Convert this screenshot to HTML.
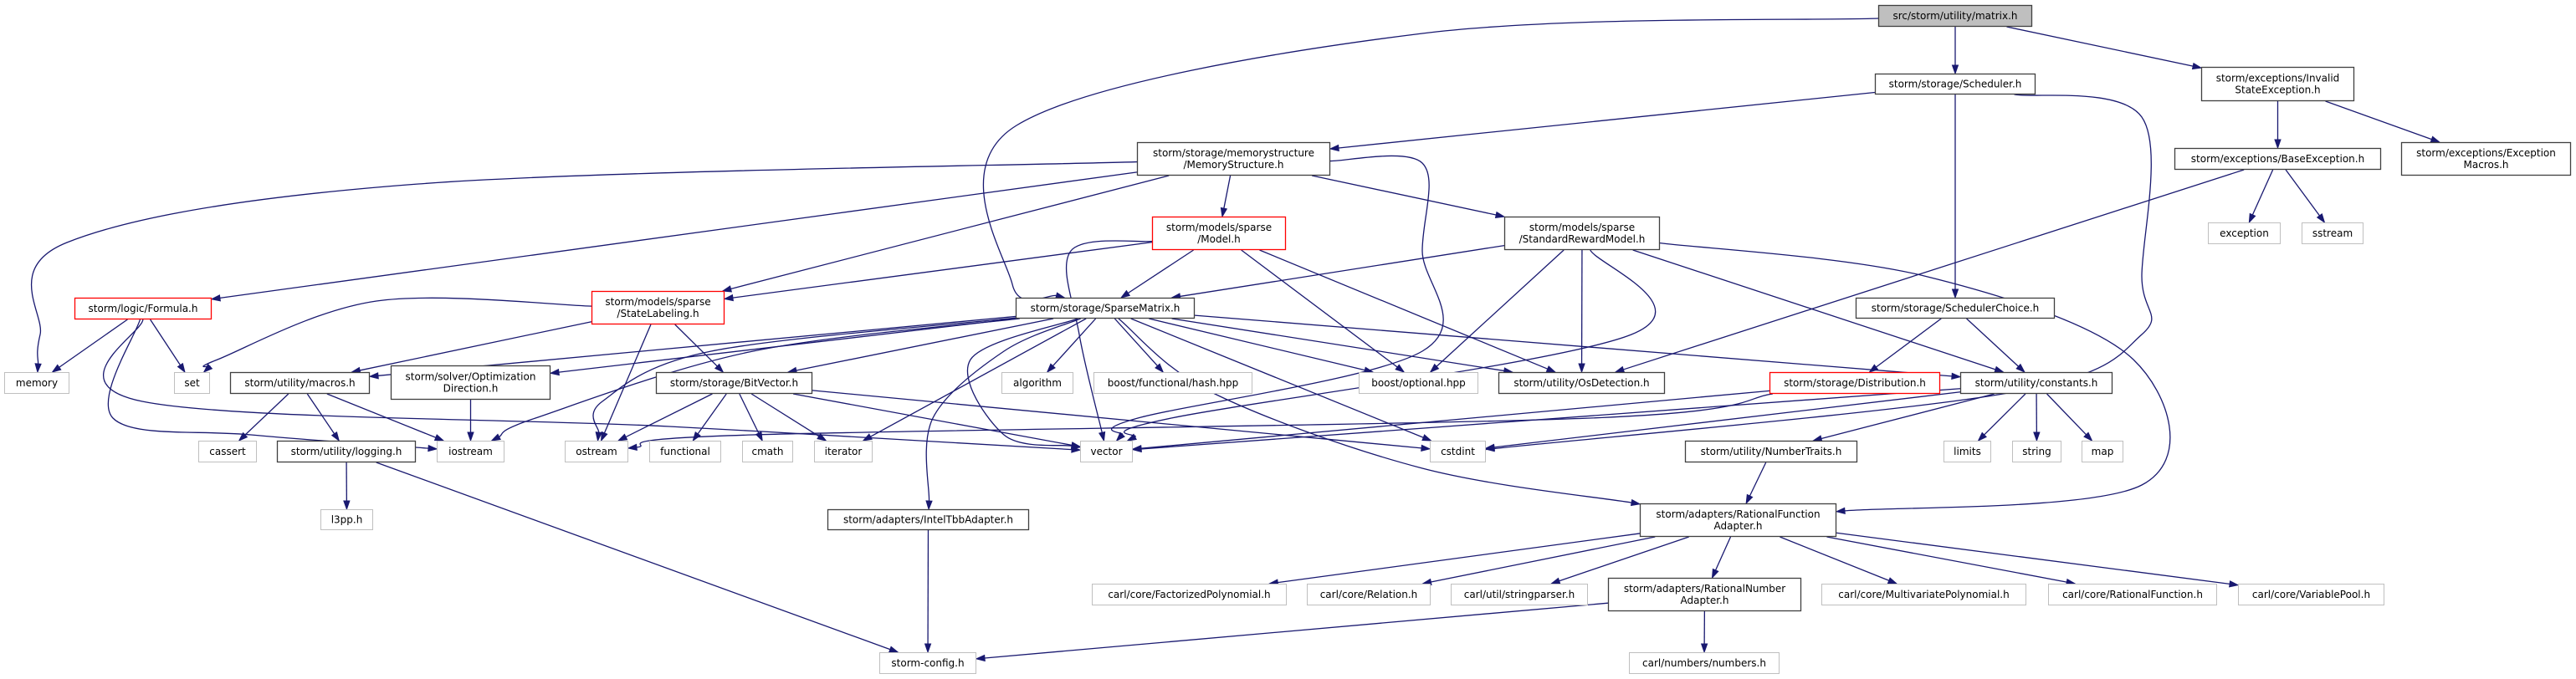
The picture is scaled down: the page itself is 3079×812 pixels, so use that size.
<!DOCTYPE html>
<html><head><meta charset="utf-8">
<style>
html,body{margin:0;padding:0;background:#fff;}
svg{display:block;}
text{font-family:"DejaVu Sans","Liberation Sans",sans-serif;font-size:12px;fill:#000;}
</style></head>
<body>
<svg id="g" xmlns="http://www.w3.org/2000/svg" width="3079" height="812" viewBox="0 0 3079 812">
<g id="edges" fill="none" stroke="#191970" stroke-width="1.3"></g>
<g id="arrows" fill="#191970" stroke="#191970"></g>
<g id="nodes"></g>
</svg>
<script>
var N={
matrix:[2245,2429,6,32,["src/storm/utility/matrix.h"],"f"],
sched:[2241,2433,88,113,["storm/storage/Scheduler.h"],"b"],
inval:[2631,2814,80,121,["storm/exceptions/Invalid","StateException.h"],"b"],
base:[2599,2846,177,203,["storm/exceptions/BaseException.h"],"b"],
emac:[2870,3073,170,210,["storm/exceptions/Exception","Macros.h"],"b"],
exc:[2639,2726,266,292,["exception"],"g"],
sstr:[2751,2825,266,292,["sstream"],"g"],
schch:[2218,2456,356,381,["storm/storage/SchedulerChoice.h"],"b"],
srm:[1798,1984,259,299,["storm/models/sparse","/StandardRewardModel.h"],"b"],
model:[1377,1537,259,299,["storm/models/sparse","/Model.h"],"r"],
mem:[1359,1590,170,210,["storm/storage/memorystructure","/MemoryStructure.h"],"b"],
sparse:[1214,1428,356,381,["storm/storage/SparseMatrix.h"],"b"],
label:[707,866,348,388,["storm/models/sparse","/StateLabeling.h"],"r"],
formula:[89,253,356,382,["storm/logic/Formula.h"],"r"],
memory:[5,83,445,471,["memory"],"g"],
set:[208,251,445,471,["set"],"g"],
macros:[275,442,445,471,["storm/utility/macros.h"],"b"],
optdir:[467,658,437,478,["storm/solver/Optimization","Direction.h"],"b"],
bitv:[784,971,445,471,["storm/storage/BitVector.h"],"b"],
cassert:[237,307,527,553,["cassert"],"g"],
logging:[331,497,527,553,["storm/utility/logging.h"],"b"],
iostream:[522,603,527,553,["iostream"],"g"],
ostream:[675,751,527,553,["ostream"],"g"],
functional:[776,862,527,553,["functional"],"g"],
cmath:[887,948,527,553,["cmath"],"g"],
iterator:[973,1043,527,553,["iterator"],"g"],
l3pp:[383,446,609,634,["l3pp.h"],"g"],
algorithm:[1197,1283,445,471,["algorithm"],"g"],
hash:[1307,1497,445,471,["boost/functional/hash.hpp"],"g"],
optional:[1624,1767,445,471,["boost/optional.hpp"],"g"],
osdet:[1791,1990,445,471,["storm/utility/OsDetection.h"],"b"],
vector:[1291,1354,527,553,["vector"],"g"],
cstdint:[1709,1776,527,553,["cstdint"],"g"],
tbb:[989,1230,609,634,["storm/adapters/IntelTbbAdapter.h"],"b"],
config:[1051,1167,780,806,["storm-config.h"],"g"],
rfa:[1960,2195,602,642,["storm/adapters/RationalFunction","Adapter.h"],"b"],
fact:[1305,1538,698,724,["carl/core/FactorizedPolynomial.h"],"g"],
rel:[1562,1710,698,724,["carl/core/Relation.h"],"g"],
strp:[1734,1898,698,724,["carl/util/stringparser.h"],"g"],
rna:[1922,2153,691,731,["storm/adapters/RationalNumber","Adapter.h"],"b"],
numbers:[1947,2127,780,806,["carl/numbers/numbers.h"],"g"],
distr:[2115,2319,445,471,["storm/storage/Distribution.h"],"r"],
consts:[2343,2525,445,471,["storm/utility/constants.h"],"b"],
ntraits:[2014,2220,527,553,["storm/utility/NumberTraits.h"],"b"],
limits:[2323,2380,527,553,["limits"],"g"],
string:[2405,2464,527,553,["string"],"g"],
map:[2488,2538,527,553,["map"],"g"],
multi:[2177,2422,698,724,["carl/core/MultivariatePolynomial.h"],"g"],
ratf:[2448,2650,698,724,["carl/core/RationalFunction.h"],"g"],
vpool:[2675,2850,698,724,["carl/core/VariablePool.h"],"g"]
};
// edges: [from,to, optional control points array]
var E=[
["matrix","sched"],["matrix","inval"],
["matrix","sparse",[[1700,40],[1215,150],[1210,340]]],
["sched","mem"],["sched","schch"],
["sched","cstdint",[[2560,140],[2560,330],[2560,400],[2400,470],[1800,535]]],
["inval","base"],["inval","emac"],
["base","exc"],["base","sstr"],["base","osdet"],
["mem","memory",[[500,220],[80,290],[48,400]]],
["mem","formula"],["mem","label"],["mem","model"],["mem","srm"],
["mem","vector",[[1700,195],[1700,300],[1700,420],[1360,500]]],
["model","label"],["model","sparse"],
["model","vector",[[1280,300],[1290,400]]],
["model","optional"],["model","osdet"],
["srm","sparse"],["srm","optional"],["srm","osdet"],
["srm","vector",[[1950,400],[1400,500]]],
["srm","consts"],
["srm","rfa",[[2300,330],[2550,430],[2560,580]]],
["formula","memory"],["formula","set"],
["formula","iostream",[[135,500],[300,520]]],
["formula","vector",[[170,480],[800,510]]],
["label","set",[[450,360],[260,430]]],
["label","macros"],["label","bitv"],["label","ostream"],
["sparse","macros"],["sparse","optdir"],["sparse","bitv"],
["sparse","iostream",[[900,420],[640,500]]],
["sparse","ostream",[[850,420],[720,480]]],
["sparse","vector",[[1160,430],[1200,520]]],
["sparse","iterator"],["sparse","algorithm"],["sparse","hash"],
["sparse","optional"],["sparse","osdet"],["sparse","cstdint"],
["sparse","consts"],
["sparse","tbb",[[1200,420],[1115,500]]],
["sparse","rfa",[[1450,470],[1700,560]]],
["macros","cassert"],["macros","logging"],["macros","iostream"],
["optdir","iostream"],
["bitv","ostream"],["bitv","functional"],["bitv","cmath"],["bitv","iterator"],
["bitv","vector"],["bitv","cstdint"],
["logging","l3pp"],["logging","config"],
["tbb","config"],
["schch","distr"],["schch","consts"],
["distr","vector"],["distr","ostream",[[1900,500],[900,520]]],
["consts","vector"],["consts","cstdint"],["consts","ntraits"],
["consts","limits"],["consts","string"],["consts","map"],
["ntraits","rfa"],
["rfa","fact"],["rfa","rel"],["rfa","strp"],["rfa","rna"],
["rfa","multi"],["rfa","ratf"],["rfa","vpool"],
["rna","config"],["rna","numbers"]
];
var ns="http://www.w3.org/2000/svg";
function el(t,a,p){var e=document.createElementNS(ns,t);for(var k in a)e.setAttribute(k,a[k]);p.appendChild(e);return e;}
var G=document.getElementById("nodes"),EG=document.getElementById("edges"),AG=document.getElementById("arrows");
function ctr(n){return [(n[0]+n[1])/2,(n[2]+n[3])/2];}
function clip(n,p,q){ // point on border of n on line from center p toward q
 var dx=q[0]-p[0],dy=q[1]-p[1];var hw=(n[1]-n[0])/2,hh=(n[3]-n[2])/2;
 var t=1e9; if(dx)t=Math.min(t,hw/Math.abs(dx)); if(dy)t=Math.min(t,hh/Math.abs(dy));
 return [p[0]+dx*t,p[1]+dy*t];}
E.forEach(function(e){
 var a=N[e[0]],b=N[e[1]],ca=ctr(a),cb=ctr(b),cp=e[2]||[];
 var first=cp.length?cp[0]:cb,last=cp.length?cp[cp.length-1]:ca;
 var s=clip(a,ca,first),t=clip(b,cb,last);
 // arrow: shorten end
 var dx=t[0]-last[0],dy=t[1]-last[1];if(!cp.length){dx=t[0]-s[0];dy=t[1]-s[1];}
 var L=Math.hypot(dx,dy)||1;dx/=L;dy/=L;
 var tip=t,base=[t[0]-dx*10,t[1]-dy*10];
 var d="M"+s[0]+","+s[1];
 if(cp.length){var pts=[s].concat(cp).concat([base]);
  // Catmull-Rom to bezier
  for(var i=0;i<pts.length-1;i++){var p0=pts[i-1]||pts[i],p1=pts[i],p2=pts[i+1],p3=pts[i+2]||p2;
   var c1=[p1[0]+(p2[0]-p0[0])/6,p1[1]+(p2[1]-p0[1])/6],c2=[p2[0]-(p3[0]-p1[0])/6,p2[1]-(p3[1]-p1[1])/6];
   d+=" C"+c1+" "+c2+" "+p2;}
 } else d+=" L"+base[0]+","+base[1];
 el("path",{d:d},EG);
 var px=-dy,py=dx;
 el("polygon",{points:tip[0]+","+tip[1]+" "+(base[0]+px*3.5)+","+(base[1]+py*3.5)+" "+(base[0]-px*3.5)+","+(base[1]-py*3.5)},AG);
});
for(var k in N){var n=N[k],st=n[5];
 var stroke=st=="r"?"#ff0000":st=="g"?"#bfbfbf":"#404040",fill=st=="f"?"#bfbfbf":"#ffffff";
 el("rect",{x:n[0]+0.5,y:n[2]+0.5,width:n[1]-n[0]-1,height:n[3]-n[2]-1,fill:fill,stroke:stroke,"stroke-width":st=="g"?1:1.3},G);
 var lines=n[4],cx=(n[0]+n[1])/2,cy=(n[2]+n[3])/2;
 lines.forEach(function(l,i){
  var y=cy+4+(i-(lines.length-1)/2)*14;
  var t=el("text",{x:cx,y:y,"text-anchor":"middle"},G);t.textContent=l;
  try{var w=t.getComputedTextLength(),mx=n[1]-n[0]-12;if(w>mx){t.setAttribute("textLength",mx);t.setAttribute("lengthAdjust","spacingAndGlyphs");}}catch(err){}
 });
}
</script>
</body></html>
